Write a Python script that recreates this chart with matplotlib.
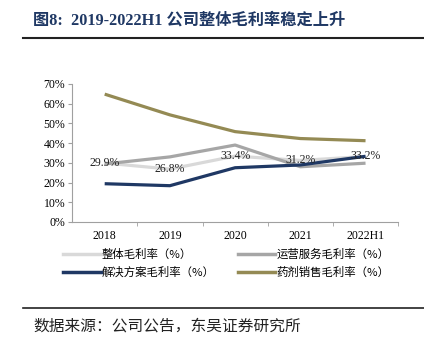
import matplotlib.pyplot as plt
from matplotlib.lines import Line2D

plt.rcParams['font.family'] = ['Liberation Serif', 'Noto Sans CJK SC']

years = ['2018', '2019', '2020', '2021', '2022H1']
overall = [29.9, 26.8, 33.4, 31.2, 33.2]
ops_service = [29.4, 33.0, 39.0, 28.0, 29.8]
solution = [19.4, 18.4, 27.5, 28.9, 33.3]
pharma = [64.8, 54.3, 45.8, 42.3, 41.2]

names = ['整体毛利率（%）', '运营服务毛利率（%）', '解决方案毛利率（%）', '药剂销售毛利率（%）']
colors = ['#D9D9D9', '#A6A6A6', '#1F3864', '#948A54']

fig = plt.figure(figsize=(4.24, 3.41), dpi=100)
ax = fig.add_axes([0.170, 0.349, 0.769, 0.405])

x = range(len(years))
series = [overall, ops_service, solution, pharma]
for vals, c in zip(series, colors):
    ax.plot(x, vals, color=c, lw=2.3, solid_capstyle='butt')

for i, v in enumerate(overall):
    ax.text(i, v, f'{v:.1f}%', ha='center', va='center', fontsize=8.5,
            family='Liberation Serif', color='#222222')

ax.set_xlim(-0.5, len(years) - 0.5)
ax.set_ylim(0, 70)
ax.set_yticks(range(0, 71, 10))
ax.set_yticklabels([f'{t}%' for t in range(0, 71, 10)], fontsize=8.5)
ax.set_xticks(list(x))
ax.set_xticklabels(years, fontsize=8.5)
ax.set_xticks([i + 0.5 for i in range(len(years))], minor=True)
ax.tick_params(axis='x', which='major', length=0, pad=6)
ax.tick_params(axis='x', which='minor', length=3, color='#A0A0A0')
ax.tick_params(axis='y', length=3, color='#A0A0A0', pad=2)
for s in ['top', 'right']:
    ax.spines[s].set_visible(False)
for s in ['left', 'bottom']:
    ax.spines[s].set_color('#A0A0A0')
    ax.spines[s].set_linewidth(0.8)

# legend fills column-wise: reorder so rows read overall/ops, solution/pharma
order = [0, 2, 1, 3]
handles = [Line2D([0], [0], color=colors[k], lw=2.5) for k in order]
fig.legend(handles, [names[k] for k in order], loc='upper left',
           bbox_to_anchor=(0.13, 0.295), ncol=2, frameon=False,
           handlelength=3.3, handletextpad=0.1, columnspacing=2.0,
           labelspacing=0.6, borderpad=0.2,
           prop={'family': ['Noto Sans CJK SC'], 'size': 8.2})

fig.text(0.078, 0.94, '图8:  2019-2022H1 公司整体毛利率稳定上升', fontsize=11.7,
         fontweight='bold', color='#1F3864', va='center',
         family=['Liberation Serif', 'Noto Sans CJK SC'])
fig.add_artist(Line2D([0.055, 1.0], [0.89, 0.89], color='#222222', lw=1.5))
fig.add_artist(Line2D([0.055, 1.0], [0.097, 0.097], color='#222222', lw=1.2))
fig.text(0.078, 0.045, '数据来源：公司公告，东吴证券研究所', fontsize=11.3, va='center',
         family=['Noto Sans CJK SC'], color='#222222')

fig.savefig('out.png', dpi=100)
